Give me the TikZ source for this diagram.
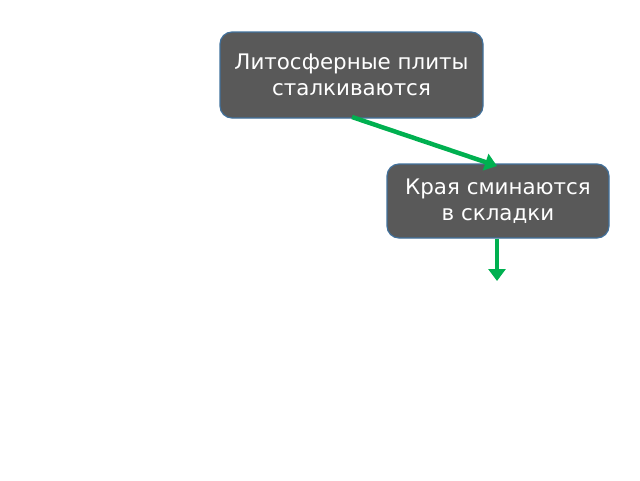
\documentclass[tikz,border=0pt]{standalone}
\usepackage{fontspec}
\setmainfont{DejaVu Sans}
\usetikzlibrary{arrows.meta}
\definecolor{boxfill}{HTML}{595959}
\definecolor{boxline}{HTML}{41719C}
\definecolor{arrgreen}{HTML}{00B050}
\begin{document}
\begin{tikzpicture}[x=1pt,y=-1pt,
  stepbox/.style={draw=boxline, line width=1.2pt, fill=boxfill, rounded corners=12pt,
    text=white, align=center, font=\fontsize{21.4}{26}\selectfont, inner sep=0pt},
  flow/.style={draw=arrgreen, line width=4.5pt, -{Triangle[length=12pt,width=17pt]}}]
\useasboundingbox (0,0) rectangle (640,480);
\node[stepbox, minimum width=263pt, minimum height=86pt] (a) at (351.5,75) {Литосферные плиты\\сталкиваются};
\node[stepbox, minimum width=222pt, minimum height=74pt] (b) at (498,201) {Края сминаются\\в складки};
\coordinate (a1) at (352,117);
\coordinate (b0) at (497,166);
\coordinate (c) at (497,281);
\draw[flow] (a1) -- (b0);
\draw[flow] (b.south -| c) -- (c);
\end{tikzpicture}
\end{document}
